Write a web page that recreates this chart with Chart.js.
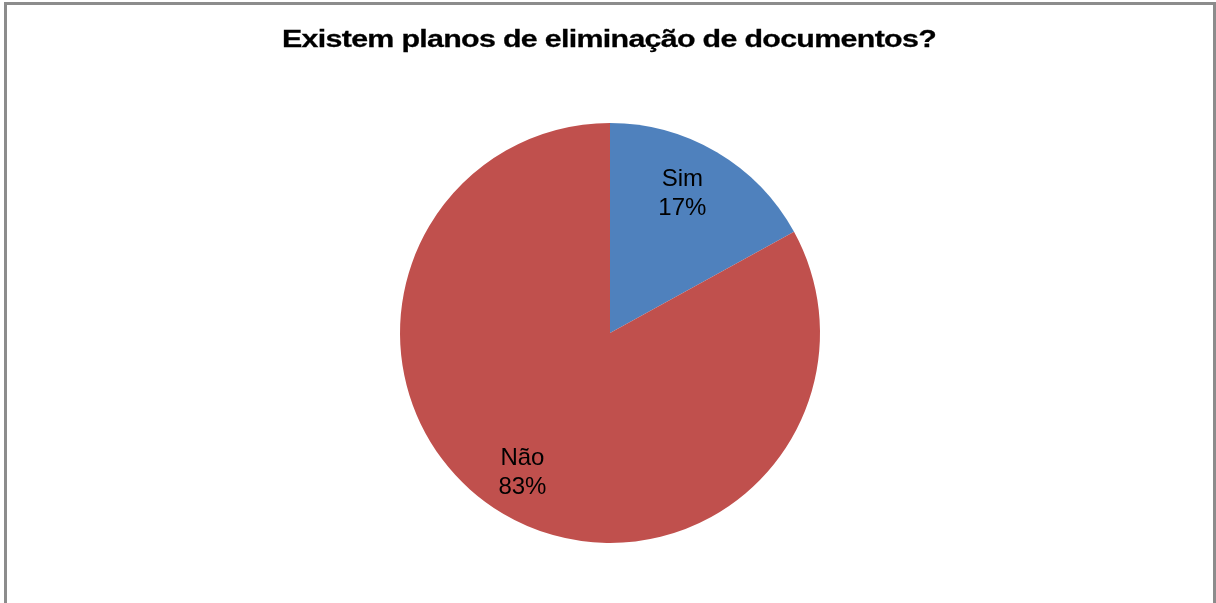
<!DOCTYPE html>
<html>
<head>
<meta charset="utf-8">
<script src="https://cdn.jsdelivr.net/npm/chart.js@4/dist/chart.umd.min.js"></script>
<style>
  html, body { margin: 0; padding: 0; background: #ffffff; overflow: hidden; }
  #frame {
    position: absolute; left: 4px; top: 2px; width: 1212px; height: 700px;
    box-sizing: border-box; border: 3px solid #8c8c8c; border-bottom: none;
  }
  #wrap { position: absolute; left: 0; top: 0; width: 1216px; height: 603px; }
</style>
</head>
<body>
<div id="frame"></div>
<div id="wrap"><canvas id="c" width="1216" height="603"></canvas></div>
<script>
const titleText = 'Existem planos de eliminação de documentos?';
const categories = ['Sim', 'Não'];
const shares = [17, 83];
const sliceColors = ['#4F81BD', '#C0504D'];
// distance of each label block from the centre, as a fraction of the radius
const labelDistance = [0.755, 0.78];
// small angular nudge (radians) for each label block
const labelNudge = [-0.06, 0.03];

// Title drawn above the pie: slightly tight tracking, widened to span its set width
const titlePlugin = {
  id: 'titleText',
  afterDraw(chart) {
    const ctx = chart.ctx;
    const target = 654;
    ctx.save();
    ctx.font = 'bold 26px "Liberation Sans", Arial, sans-serif';
    ctx.fillStyle = '#000';
    ctx.strokeStyle = '#000';
    ctx.lineWidth = 0.3;
    ctx.textBaseline = 'alphabetic';
    ctx.textAlign = 'left';
    ctx.letterSpacing = '-0.6px';
    const w = ctx.measureText(titleText).width;
    ctx.translate(609 - target / 2, 47);
    ctx.scale(target / w, 0.92);
    ctx.fillText(titleText, 0, 0);
    ctx.strokeText(titleText, 0, 0);
    ctx.restore();
  }
};

// Category name and percentage inside each slice
const sliceLabels = {
  id: 'sliceLabels',
  afterDatasetsDraw(chart) {
    const ctx = chart.ctx;
    const meta = chart.getDatasetMeta(0);
    ctx.save();
    ctx.font = '24px "Liberation Sans", Arial, sans-serif';
    ctx.fillStyle = '#000';
    ctx.textAlign = 'center';
    ctx.textBaseline = 'alphabetic';
    meta.data.forEach((arc, i) => {
      const p = arc.getProps(['x', 'y', 'startAngle', 'endAngle', 'outerRadius'], true);
      const mid = (p.startAngle + p.endAngle) / 2 + labelNudge[i];
      const r = p.outerRadius * labelDistance[i];
      const cx = p.x + Math.cos(mid) * r;
      const cy = p.y + Math.sin(mid) * r;
      ctx.fillText(categories[i], cx, cy - 6);
      ctx.fillText(shares[i] + '%', cx, cy + 23);
    });
    ctx.restore();
  }
};

new Chart(document.getElementById('c'), {
  type: 'pie',
  data: {
    labels: categories,
    datasets: [{
      data: shares,
      backgroundColor: sliceColors,
      borderWidth: 0,
      hoverOffset: 0
    }]
  },
  options: {
    responsive: false,
    animation: false,
    layout: { padding: { top: 123, bottom: 60, left: 4, right: 0 } },
    plugins: {
      legend: { display: false },
      title: { display: false },
      tooltip: { enabled: false }
    }
  },
  plugins: [titlePlugin, sliceLabels]
});
</script>
</body>
</html>
